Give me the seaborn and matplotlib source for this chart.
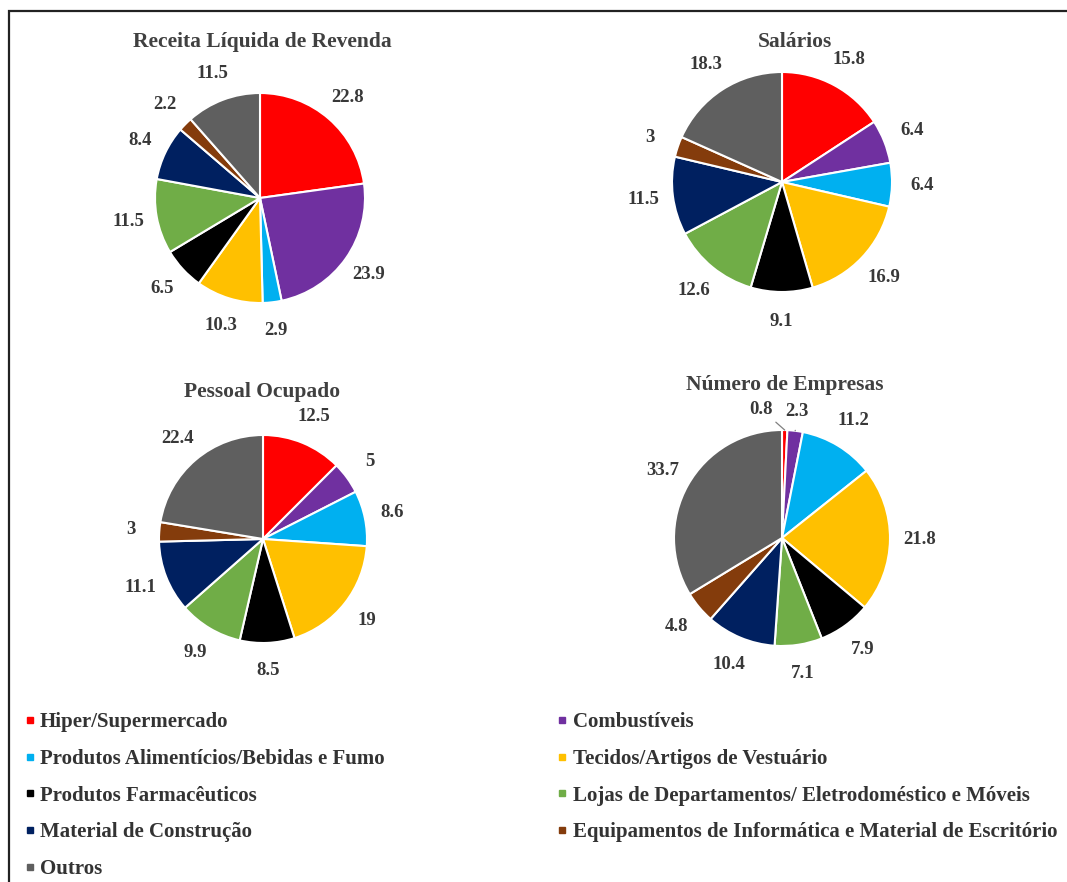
import numpy as np
import matplotlib
matplotlib.use("Agg")
import matplotlib.pyplot as plt
import seaborn as sns
from matplotlib.lines import Line2D
from matplotlib.patches import Rectangle

# ---- data ----
categories = [
    "Hiper/Supermercado",
    "Combustíveis",
    "Produtos Alimentícios/Bebidas e Fumo",
    "Tecidos/Artigos de Vestuário",
    "Produtos Farmacêuticos",
    "Lojas de Departamentos/ Eletrodoméstico e Móveis",
    "Material de Construção",
    "Equipamentos de Informática e Material de Escritório",
    "Outros",
]
colors = ["#FF0000", "#7030A0", "#00B0F0", "#FFC000", "#000000",
          "#70AD47", "#002060", "#843C0C", "#5F5F5F"]

receita = [22.8, 23.9, 2.9, 10.3, 6.5, 11.5, 8.4, 2.2, 11.5]
salarios = [15.8, 6.4, 6.4, 16.9, 9.1, 12.6, 11.5, 3, 18.3]
pessoal = [12.5, 5, 8.6, 19, 8.5, 9.9, 11.1, 3, 22.4]
empresas = [0.8, 2.3, 11.2, 21.8, 7.9, 7.1, 10.4, 4.8, 33.7]

titles = ["Receita Líquida de Revenda", "Salários", "Pessoal Ocupado", "Número de Empresas"]

sns.set_theme(style="white")
plt.rcParams['font.family'] = ['Liberation Serif', 'DejaVu Serif']
plt.rcParams['font.weight'] = 'bold'

W, H = 1067, 882
fig = plt.figure(figsize=(W / 100, H / 100), dpi=100)

# frame around the figure (cut off at right / bottom like the original)
fig.patches.append(Rectangle((9 / W, -0.05), 1.2, 1 - 11 / H + 0.05,
                             transform=fig.transFigure, fill=False,
                             edgecolor="#222222", linewidth=1.6))

# pie centers / radii in pixels, title positions
panels = [
    (receita, (260, 198), 105, (262, 42)),
    (salarios, (782, 182), 110, (795, 42)),
    (pessoal, (263, 539), 104, (262, 392)),
    (empresas, (782, 538), 108, (785, 385)),
]

L = 1.6
txt_color = "#383838"
for i, (vals, (cx, cy), r, (tx, ty)) in enumerate(panels):
    side = 2 * L * r
    ax = fig.add_axes([(cx - side / 2) / W, 1 - (cy + side / 2) / H, side / W, side / H])
    wedges, _ = ax.pie(vals, colors=colors, startangle=90, counterclock=False,
                       wedgeprops=dict(edgecolor="white", linewidth=1.5))
    ax.set_xlim(-L, L)
    ax.set_ylim(-L, L)
    ax.set_aspect("equal")
    ax.axis("off")
    for j, w in enumerate(wedges):
        ang = np.deg2rad((w.theta1 + w.theta2) / 2)
        x, y = np.cos(ang), np.sin(ang)
        lab = f"{vals[j]:g}"
        if i == 3 and j == 0:
            ax.annotate(lab, xy=(x, y), xytext=(-0.19, 1.19),
                        ha="center", va="center", fontsize=13.5, color=txt_color,
                        arrowprops=dict(arrowstyle="-", color="#808080", lw=0.9,
                                        shrinkA=1, shrinkB=0))
        elif i == 3 and j == 1:
            ax.annotate(lab, xy=(x, y), xytext=(0.14, 1.17),
                        ha="center", va="center", fontsize=13.5, color=txt_color,
                        arrowprops=dict(arrowstyle="-", color="#808080", lw=0.9,
                                        shrinkA=5, shrinkB=0))
        else:
            ax.text(x * 1.27, y * 1.27, lab, ha="center", va="center",
                    fontsize=13.5, color=txt_color)
    fig.text(tx / W, 1 - ty / H, titles[i], ha="center", va="center",
             fontsize=15.5, color="#404040")

# legend, two columns in row order
handles = [Line2D([], [], marker="s", linestyle="", color=c, markersize=5) for c in colors]
left_idx = [0, 2, 4, 6, 8]
right_idx = [1, 3, 5, 7]
for idx, xpx in [(left_idx, 17), (right_idx, 550)]:
    fig.legend([handles[k] for k in idx], [categories[k] for k in idx],
               loc="upper left", bbox_to_anchor=(xpx / W, 1 - 704 / H),
               frameon=False, handlelength=0.4, handletextpad=0.3,
               labelspacing=0.8, prop=dict(family="Liberation Serif", weight="bold", size=15),
               labelcolor="#333333", borderaxespad=0)

fig.savefig("out.png", dpi=100)
